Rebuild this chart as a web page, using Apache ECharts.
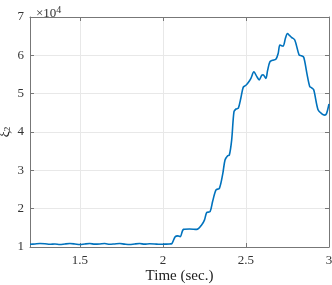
<!DOCTYPE html>
<html><head><meta charset="utf-8">
<script src="https://cdn.jsdelivr.net/npm/echarts@6/dist/echarts.min.js"></script>
<style>html,body{margin:0;padding:0;background:#fff}#c{width:332px;height:285px}</style>
</head><body><div id="c"></div>
<script>
const timeSec = [1.20,1.23,1.26,1.29,1.32,1.35,1.38,1.41,1.44,1.47,1.50,1.53,1.56,1.59,1.62,1.65,1.68,1.71,1.74,1.77,1.80,1.83,1.86,1.89,1.92,1.95,1.98,2.01,2.04,2.054,2.074,2.09,2.104,2.124,2.16,2.204,2.234,2.25,2.264,2.284,2.30,2.32,2.34,2.36,2.374,2.39,2.40,2.414,2.428,2.44,2.454,2.47,2.484,2.50,2.514,2.53,2.548,2.565,2.58,2.595,2.604,2.62,2.63,2.644,2.66,2.68,2.694,2.704,2.714,2.724,2.738,2.75,2.762,2.774,2.794,2.82,2.834,2.848,2.866,2.884,2.896,2.908,2.934,2.955,2.974,2.985,3.0];
const xi2 = [1.07,1.08,1.09,1.085,1.07,1.08,1.065,1.08,1.09,1.08,1.065,1.08,1.09,1.075,1.08,1.09,1.07,1.08,1.09,1.075,1.065,1.08,1.09,1.075,1.085,1.08,1.07,1.075,1.08,1.09,1.27,1.29,1.27,1.46,1.47,1.46,1.58,1.70,1.90,1.92,2.20,2.49,2.53,2.90,3.27,3.38,3.40,3.79,4.53,4.60,4.62,4.90,5.17,5.22,5.29,5.40,5.57,5.45,5.36,5.48,5.49,5.40,5.60,5.83,5.87,5.90,6.05,6.27,6.25,6.24,6.45,6.57,6.52,6.47,6.40,6.01,5.99,5.95,5.55,5.19,5.15,5.10,4.58,4.48,4.44,4.48,4.73];
const xTicks = [1.5, 2, 2.5, 3];
const yTicks = [1, 2, 3, 4, 5, 6, 7];

const font = "'Liberation Serif','DejaVu Serif',serif";
const axisCol = '#777';
const chart = echarts.init(document.getElementById('c'), null, {renderer:'canvas'});
const lineStyle = {color: axisCol, width: 1};
chart.setOption({
  animation: false,
  backgroundColor: '#fff',
  title: {
    text: '×10{s|4}', left: 31, top: 0,
    textStyle: {fontFamily: font, fontSize: 13, fontWeight: 'normal', color: '#333',
      rich: {s: {fontFamily: font, fontSize: 10, verticalAlign: 'top', padding: [0,0,8,0], color:'#333'}}}
  },
  grid: {left: 30, right: 3, top: 17, bottom: 38, containLabel: false, outerBoundsMode: 'none'},
  xAxis: [{
    type: 'value', min: 1.2, max: 3,
    name: 'Time (sec.)', nameLocation: 'middle', nameGap: 22, nameMoveOverlap: false,
    nameTextStyle: {fontFamily: font, fontSize: 15, color: '#222'},
    axisLine: {lineStyle}, axisTick: {inside: true, length: 4, lineStyle, customValues: xTicks},
    axisLabel: {fontFamily: font, fontSize: 13, color: '#333', margin: 7, customValues: xTicks, formatter: v => String(v)},
    splitLine: {show: true, lineStyle: {color: '#e8e8e8', width: 1}, customValues: xTicks}
  }, {
    type: 'value', min: 1.2, max: 3, position: 'top',
    axisLine: {show: true, lineStyle}, axisTick: {show: true, inside: true, length: 4, lineStyle, customValues: xTicks},
    axisLabel: {show: false, customValues: xTicks}, splitLine: {show: false}
  }],
  yAxis: [{
    type: 'value', min: 1, max: 7, interval: 1,
    name: 'ξ{sub|2}', nameLocation: 'middle', nameGap: 18, nameRotate: 90, nameMoveOverlap: false,
    nameTextStyle: {fontFamily: font, fontSize: 14, color: '#222',
      rich: {sub: {fontFamily: font, fontSize: 9, verticalAlign: 'bottom'}}},
    axisLine: {show: true, lineStyle}, axisTick: {show: true, inside: true, length: 4, lineStyle},
    axisLabel: {fontFamily: font, fontSize: 13, color: '#333', margin: 6, customValues: yTicks},
    splitLine: {show: true, lineStyle: {color: '#e8e8e8', width: 1}}
  }, {
    type: 'value', min: 1, max: 7, interval: 1, position: 'right',
    axisLine: {show: true, lineStyle}, axisTick: {show: true, inside: true, length: 4, lineStyle},
    axisLabel: {show: false}, splitLine: {show: false}
  }],
  series: [{
    type: 'line', xAxisIndex: 0, yAxisIndex: 0,
    data: timeSec.map((t, i) => [t, xi2[i]]),
    showSymbol: false, smooth: 0.3,
    lineStyle: {color: '#0072BD', width: 1.6}
  }]
});
</script></body></html>
